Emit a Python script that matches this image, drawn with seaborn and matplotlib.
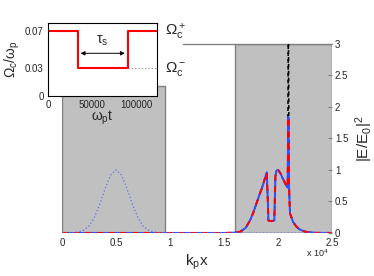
import numpy as np
import pandas as pd
import seaborn as sns
import matplotlib.pyplot as plt
from matplotlib.patches import Rectangle

# field profiles, x in units of 1e4 / k_p
x_in = [0.0, 0.05, 0.10, 0.15, 0.20, 0.25, 0.30, 0.35, 0.40, 0.45, 0.50,
        0.55, 0.60, 0.65, 0.70, 0.75, 0.80, 0.85, 0.90, 1.0, 1.5, 2.0, 2.5]
e_in = [0.0, 0.0, 0.004, 0.015, 0.044, 0.11, 0.25, 0.46, 0.71, 0.92, 1.0,
        0.92, 0.71, 0.46, 0.25, 0.11, 0.044, 0.015, 0.004, 0.0, 0.0, 0.0, 0.0]

x_out = [0.0, 1.5, 1.6, 1.65, 1.70, 1.74, 1.77, 1.80, 1.83, 1.85, 1.87, 1.895,
         1.905, 1.91, 1.92, 1.95, 1.965, 1.975, 1.985, 2.00, 2.02, 2.05, 2.08,
         2.088, 2.095, 2.102, 2.11, 2.14, 2.17, 2.20, 2.25, 2.30, 2.35, 2.5]
e_out = [0.0, 0.0, 0.005, 0.02, 0.08, 0.2, 0.32, 0.47, 0.62, 0.71, 0.82, 0.96,
         0.5, 0.2, 0.19, 0.19, 0.2, 0.9, 0.99, 1.0, 0.95, 0.84, 0.74,
         0.72, 1.84, 0.7, 0.31, 0.17, 0.1, 0.055, 0.02, 0.008, 0.002, 0.0]
e_lin = [0.0, 0.0, 0.005, 0.02, 0.08, 0.2, 0.32, 0.47, 0.62, 0.71, 0.82, 0.96,
         0.5, 0.2, 0.19, 0.19, 0.2, 0.9, 0.99, 1.0, 0.95, 0.84, 0.74,
         0.72, 3.4, 0.7, 0.31, 0.17, 0.1, 0.055, 0.02, 0.008, 0.002, 0.0]

# plasma frequency modulation (inset)
t_mod = [0, 34000, 34000, 90500, 90500, 124000]
om_mod = [0.07, 0.07, 0.03, 0.03, 0.07, 0.07]
t_ref = [90500, 124000]
om_ref = [0.03, 0.03]

gray_regions = [(0.0, 0.95, 2.33), (1.6, 2.5, 3.0)]

sns.set_style("white")
plt.rcParams['font.family'] = ['Liberation Sans', 'DejaVu Sans']
plt.rcParams['mathtext.default'] = 'regular'

fig = plt.figure(figsize=(3.74, 2.76), dpi=100)
ax = fig.add_axes([0.166, 0.156, 0.722, 0.685])

for x0, x1, h in gray_regions:
    ax.add_patch(Rectangle((x0, 0), x1 - x0, h, facecolor='#c0c0c0',
                           edgecolor='#808080', lw=1.0, zorder=0))
ax.plot([1.12, 2.5], [3, 3], color='#808080', lw=1.0, clip_on=False)

sns.lineplot(x=x_out, y=e_lin, ax=ax, color='black', lw=1.1, sort=False,
             estimator=None, linestyle=(0, (2.5, 2)))
sns.lineplot(x=x_out, y=e_out, ax=ax, color='#3050ff', lw=1.4, sort=False,
             estimator=None)
sns.lineplot(x=x_out, y=e_out, ax=ax, color='red', lw=1.4, sort=False,
             estimator=None, linestyle=(0, (3, 3)))
sns.lineplot(x=x_in, y=e_in, ax=ax, color='#6070f0', lw=0.9, sort=False,
             estimator=None, linestyle=(0, (1, 1.8)))

ax.set_xlim(0, 2.5)
ax.set_ylim(0, 3)
for s in ax.spines.values():
    s.set_visible(False)
ax.yaxis.tick_right()
ax.yaxis.set_label_position('right')
ax.set_xticks([0, 0.5, 1, 1.5, 2, 2.5])
ax.set_xticklabels(['0', '0.5', '1', '1.5', '2', '2.5'])
ax.set_yticks([0, 0.5, 1, 1.5, 2, 2.5, 3])
ax.set_yticklabels(['0', '0.5', '1', '1.5', '2', '2.5', '3'])
ax.tick_params(direction='in', length=3, labelsize=7, pad=2, color='#808080')
ax.tick_params(axis='x', pad=4)
ax.set_xlabel('$k_p x$', fontsize=11, labelpad=3)
ax.set_ylabel('$|E/E_0|^2$', fontsize=11, labelpad=4)
fig.text(0.818, 0.07, r'x $10^4$', fontsize=6.5)

ins = fig.add_axes([0.128, 0.652, 0.292, 0.266])
ins.set_facecolor('white')
sns.lineplot(x=t_ref, y=om_ref, ax=ins, color='gray', lw=0.8,
             linestyle=(0, (1, 2)), estimator=None, sort=False)
sns.lineplot(x=t_mod, y=om_mod, ax=ins, color='red', lw=1.5, sort=False,
             estimator=None)
ins.set_xlim(0, 124000)
ins.set_ylim(0, 0.079)
ins.set_xticks([0, 50000, 100000])
ins.set_xticklabels(['0', '50000', '100000'])
ins.set_yticks([0, 0.03, 0.07])
ins.set_yticklabels(['0', '0.03', '0.07'])
ins.tick_params(direction='in', length=2, labelsize=7, pad=3)
for s in ins.spines.values():
    s.set_color('black')
    s.set_linewidth(0.8)
ins.set_xlabel(r'$\omega_p t$', fontsize=10, labelpad=-1)
ins.set_ylabel(r'$\Omega_c/\omega_p$', fontsize=10, labelpad=2)
ins.annotate('', xy=(34000, 0.046), xytext=(90500, 0.046),
             arrowprops=dict(arrowstyle='<|-|>', color='black', lw=0.7,
                             mutation_scale=6))
ins.text(62000, 0.052, r'$\tau_s$', fontsize=10, ha='center', va='bottom')

fig.text(0.44, 0.885, r'$\Omega_c^+$', fontsize=11, va='center')
fig.text(0.44, 0.75, r'$\Omega_c^-$', fontsize=11, va='center')

fig.savefig('out.png', dpi=100)
